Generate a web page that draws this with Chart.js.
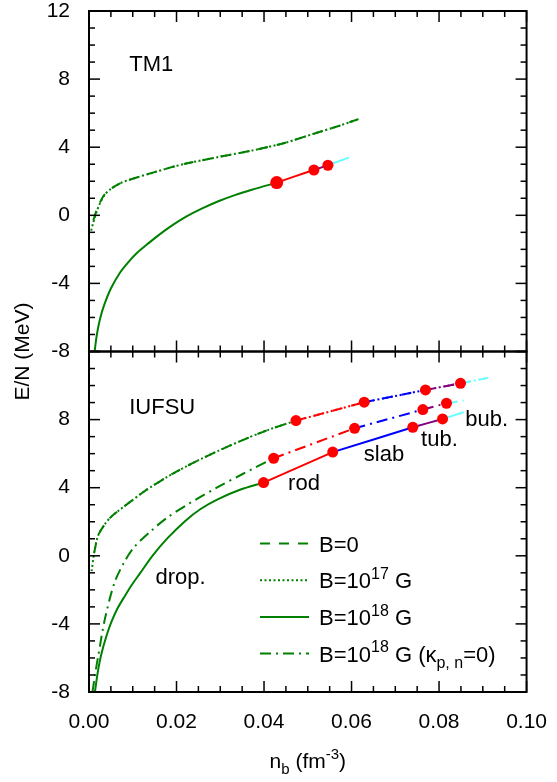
<!DOCTYPE html>
<html>
<head>
<meta charset="utf-8">
<script src="https://cdn.jsdelivr.net/npm/chart.js@4.4.1/dist/chart.umd.min.js"></script>
<style>
  html, body { margin: 0; padding: 0; background: #fff; }
  canvas { display: block; }
</style>
</head>
<body>
<canvas id="chart" width="557" height="782"></canvas>
<script>
// axis ticks
const xMajorTicks = [0, 0.02, 0.04, 0.06, 0.08, 0.10];
const xTickLabels = ['0.00', '0.02', '0.04', '0.06', '0.08', '0.10'];
const yMajorTicks = [-8, -4, 0, 4, 8, 12];
const yTickLabelsTop = ['-8', '-4', '0', '4', '8', '12'];
const yTickLabelsBottom = ['-8', '-4', '0', '4', '8', ''];

// ---- TM1 (upper panel) ----
const tm1B17X = [0.0005, 0.0010, 0.0016, 0.0025, 0.0035, 0.0050, 0.0073, 0.0100, 0.0148, 0.0185, 0.0222, 0.0297, 0.0372, 0.0447, 0.0512, 0.0565, 0.0616];
const tm1B17Y = [-0.9, -0.4, 0.1, 0.7, 1.18, 1.55, 1.9, 2.15, 2.52, 2.8, 3.04, 3.43, 3.8, 4.25, 4.78, 5.2, 5.65];
const tm1B0X = [0.0010, 0.0016, 0.0025, 0.0035, 0.0050, 0.0073, 0.0100, 0.0148, 0.0185, 0.0222, 0.0297, 0.0372, 0.0447, 0.0512, 0.0565, 0.0616];
const tm1B0Y = [-0.3, 0.2, 0.75, 1.2, 1.55, 1.9, 2.15, 2.52, 2.8, 3.04, 3.43, 3.8, 4.25, 4.78, 5.2, 5.65];
const tm1B18X = [0.00128, 0.0018, 0.0025, 0.0035, 0.0050, 0.0070, 0.0090, 0.0110, 0.0137, 0.0160, 0.0185, 0.0222, 0.0260, 0.0297, 0.0335, 0.0372, 0.0429];
const tm1B18Y = [-8.0, -7.0, -6.1, -5.25, -4.3, -3.4, -2.75, -2.2, -1.62, -1.15, -0.68, -0.08, 0.42, 0.84, 1.2, 1.5, 1.92];
const tm1RodX = [0.0429, 0.0472, 0.0514];
const tm1RodY = [1.92, 2.3, 2.66];
const tm1TubX = [0.0514, 0.0546];
const tm1TubY = [2.66, 2.94];
const tm1BubX = [0.0546, 0.0594];
const tm1BubY = [2.94, 3.39];
const tm1DotX = [0.0429, 0.0514, 0.0546];
const tm1DotY = [1.92, 2.66, 2.94];

// ---- IUFSU (lower panel) ----
const iuB17X = [0.0006, 0.0012, 0.0021, 0.0036, 0.0051, 0.0070, 0.0088, 0.0126, 0.0145, 0.0178, 0.0201, 0.0220, 0.0253, 0.0294, 0.0347, 0.0410, 0.0473];
const iuB17Y = [-0.9, 0.2, 1.2, 1.85, 2.3, 2.7, 3.05, 3.78, 4.1, 4.62, 4.96, 5.22, 5.65, 6.15, 6.75, 7.4, 7.94];
const iuB0X = [0.0012, 0.0021, 0.0036, 0.0051, 0.0070, 0.0088, 0.0126, 0.0145, 0.0178, 0.0201, 0.0220, 0.0253, 0.0294, 0.0347, 0.0410, 0.0473];
const iuB0Y = [0.2, 1.2, 1.85, 2.3, 2.7, 3.05, 3.78, 4.1, 4.62, 4.96, 5.22, 5.65, 6.15, 6.75, 7.4, 7.94];
const iuB18X = [0.00135, 0.0020, 0.0028, 0.0040, 0.0051, 0.0065, 0.0081, 0.0098, 0.0116, 0.0145, 0.0180, 0.0220, 0.0255, 0.0294, 0.0345, 0.0399];
const iuB18Y = [-8.0, -6.85, -5.8, -4.7, -3.9, -3.1, -2.4, -1.7, -1.05, 0.0, 1.05, 2.05, 2.75, 3.32, 3.88, 4.3];
const iuK0X = [0.0008, 0.0014, 0.0021, 0.0036, 0.0058, 0.0081, 0.0103, 0.01445, 0.0178, 0.0220, 0.0246, 0.0294, 0.0350, 0.0422];
const iuK0Y = [-8.0, -6.95, -5.9, -3.75, -1.6, -0.35, 0.5, 1.52, 2.23, 2.93, 3.33, 4.03, 4.79, 5.73];

// pasta phases on each curve: rod, slab, tube, bubble boundaries
const iuB18PhaseX = [0.0399, 0.0557, 0.0740, 0.0808, 0.0856];
const iuB18PhaseY = [4.3, 6.09, 7.55, 8.04, 8.43];
const iuK0PhaseX = [0.0422, 0.0607, 0.0763, 0.0817, 0.0856];
const iuK0PhaseY = [5.73, 7.49, 8.59, 8.96, 9.12];
const iuB17PhaseX = [0.0473, 0.0629, 0.0769, 0.0849, 0.0912];
const iuB17PhaseY = [7.94, 9.02, 9.74, 10.13, 10.45];

const GREEN = '#008000';
const phaseColors = ['#ff0000', '#0000ff', '#800080', '#66ffff'];
const DASHED = [10, 9];
const DOTTED = [2, 2.5];
const DASHDOT = [11, 5, 2, 5];
const FONT = "'Liberation Sans', Arial, sans-serif";

const zip = (xs, ys) => xs.map((x, i) => ({ x, y: ys[i] }));

const curve = (xs, ys, color, dash, axis) => ({
  data: zip(xs, ys),
  showLine: true,
  borderColor: color,
  borderWidth: 2,
  borderDash: dash,
  pointRadius: 0,
  tension: 0.3,
  yAxisID: axis,
  order: 1,
});

// order 0 -> drawn last, on top of the lines
const dots = (xs, ys, axis, r) => ({
  data: zip(xs, ys),
  showLine: false,
  pointRadius: r,
  pointBackgroundColor: '#ff0000',
  pointBorderColor: '#ff0000',
  pointBorderWidth: 0,
  yAxisID: axis,
  order: 0,
});

// a phase curve split into coloured segments between the boundary points
const phaseSegments = (xs, ys, dashes, axis) => {
  const out = [];
  for (let i = 0; i < xs.length - 1; i++) {
    for (const d of dashes) {
      out.push(curve([xs[i], xs[i + 1]], [ys[i], ys[i + 1]], phaseColors[i], d, axis));
    }
  }
  return out;
};

const datasets = [
  curve(tm1B17X, tm1B17Y, GREEN, DOTTED, 'yTop'),
  curve(tm1B0X, tm1B0Y, GREEN, DASHED, 'yTop'),
  curve(tm1B18X, tm1B18Y, GREEN, [], 'yTop'),
  curve(tm1RodX, tm1RodY, phaseColors[0], [], 'yTop'),
  curve(tm1TubX, tm1TubY, phaseColors[2], [], 'yTop'),
  curve(tm1BubX, tm1BubY, phaseColors[3], [], 'yTop'),
  dots(tm1DotX, tm1DotY, 'yTop', [6.5, 5.5, 5.5]),

  curve(iuB17X, iuB17Y, GREEN, DOTTED, 'yBot'),
  curve(iuB0X, iuB0Y, GREEN, DASHED, 'yBot'),
  curve(iuK0X, iuK0Y, GREEN, DASHDOT, 'yBot'),
  curve(iuB18X, iuB18Y, GREEN, [], 'yBot'),
  ...phaseSegments(iuB17PhaseX, iuB17PhaseY, [DASHED, DOTTED], 'yBot'),
  ...phaseSegments(iuK0PhaseX, iuK0PhaseY, [DASHDOT], 'yBot'),
  ...phaseSegments(iuB18PhaseX, iuB18PhaseY, [[]], 'yBot'),
  dots(iuB17PhaseX.slice(0, 4), iuB17PhaseY.slice(0, 4), 'yBot', 5.5),
  dots(iuK0PhaseX.slice(0, 4), iuK0PhaseY.slice(0, 4), 'yBot', 5.5),
  dots(iuB18PhaseX.slice(0, 4), iuB18PhaseY.slice(0, 4), 'yBot', 5.5),
];

const labelFor = (majors, labels) => (v) => {
  const i = majors.findIndex(m => Math.abs(m - v) < 1e-9);
  return i < 0 ? '' : labels[i];
};
const isMajor = (majors, v) => majors.some(m => Math.abs(m - v) < 1e-9);

const annotations = [
  { text: 'TM1', x: 0.0092, y: 8.5, axis: 'yTop' },
  { text: 'IUFSU', x: 0.0092, y: 8.35, axis: 'yBot' },
  { text: 'drop.', x: 0.0152, y: -1.67, axis: 'yBot' },
  { text: 'rod', x: 0.0455, y: 3.84, axis: 'yBot' },
  { text: 'slab', x: 0.0628, y: 5.54, axis: 'yBot' },
  { text: 'tub.', x: 0.0759, y: 6.42, axis: 'yBot' },
  { text: 'bub.', x: 0.0860, y: 7.65, axis: 'yBot' },
];

const legendRows = [
  { dash: DASHED, parts: [{ t: 'B=0' }] },
  { dash: DOTTED, parts: [{ t: 'B=10' }, { t: '17', sup: true }, { t: ' G' }] },
  { dash: [], parts: [{ t: 'B=10' }, { t: '18', sup: true }, { t: ' G' }] },
  { dash: DASHDOT, parts: [{ t: 'B=10' }, { t: '18', sup: true }, { t: ' G (\u03BA' }, { t: 'p, n', sub: true }, { t: '=0)' }] },
];

function drawRich(ctx, parts, x, y, size, align) {
  const small = Math.round(size * 0.72);
  let w = 0;
  for (const p of parts) {
    ctx.font = `${p.sup || p.sub ? small : size}px ${FONT}`;
    w += ctx.measureText(p.t).width;
  }
  let cx = align === 'center' ? x - w / 2 : x;
  ctx.textAlign = 'left';
  ctx.textBaseline = 'alphabetic';
  for (const p of parts) {
    ctx.font = `${p.sup || p.sub ? small : size}px ${FONT}`;
    const dy = p.sup ? -size * 0.42 : p.sub ? size * 0.3 : 0;
    ctx.fillText(p.t, cx, y + dy);
    cx += ctx.measureText(p.t).width;
  }
}

const framePlugin = {
  id: 'frame',
  afterDraw(chart) {
    const { ctx } = chart;
    const xs = chart.scales.x;
    const panels = [chart.scales.yTop, chart.scales.yBot];
    const l = xs.left, r = xs.right;
    ctx.save();
    ctx.strokeStyle = '#000';
    const seg = (x1, y1, x2, y2) => { ctx.beginPath(); ctx.moveTo(x1, y1); ctx.lineTo(x2, y2); ctx.stroke(); };
    for (const ys of panels) {
      const t = ys.top, b = ys.bottom;
      ctx.lineWidth = 1.5;
      for (const tk of ys.ticks) {
        const p = ys.getPixelForValue(tk.value);
        const len = isMajor(yMajorTicks, tk.value) ? 11 : 6;
        seg(l, p, l + len, p);
        seg(r, p, r - len, p);
      }
      for (const tk of xs.ticks) {
        const p = xs.getPixelForValue(tk.value);
        const len = isMajor(xMajorTicks, tk.value) ? 11 : 6;
        seg(p, t, p, t + len);
        seg(p, b, p, b - len);
      }
      ctx.lineWidth = 2;
      ctx.strokeRect(l, t, r - l, b - t);
    }

    ctx.fillStyle = '#000';
    ctx.textAlign = 'left';
    ctx.textBaseline = 'alphabetic';
    ctx.font = `22px ${FONT}`;
    for (const a of annotations) {
      ctx.fillText(a.text, xs.getPixelForValue(a.x), chart.scales[a.axis].getPixelForValue(a.y));
    }

    // legend
    legendRows.forEach((row, i) => {
      const cy = 543.5 + i * 36.7;
      ctx.strokeStyle = GREEN;
      ctx.lineWidth = 2;
      ctx.setLineDash(row.dash);
      seg(260, cy, 309, cy);
      ctx.setLineDash([]);
      ctx.fillStyle = '#000';
      drawRich(ctx, row.parts, 319, cy + 8, 22, 'left');
    });

    // axis titles
    ctx.fillStyle = '#000';
    drawRich(ctx, [{ t: 'n' }, { t: 'b', sub: true }, { t: ' (fm' }, { t: '-3', sup: true }, { t: ')' }],
      (l + r) / 2, 768, 21, 'center');
    ctx.save();
    ctx.translate(29, (panels[0].top + panels[1].bottom) / 2);
    ctx.rotate(-Math.PI / 2);
    ctx.font = `21px ${FONT}`;
    ctx.textAlign = 'center';
    ctx.textBaseline = 'alphabetic';
    ctx.fillText('E/N (MeV)', 0, 0);
    ctx.restore();
    ctx.restore();
  }
};

const yAxis = (labels) => ({
  type: 'linear',
  position: 'left',
  stack: 'panels',
  stackWeight: 1,
  min: -8,
  max: 12,
  grid: { display: false },
  border: { display: false },
  afterFit: (s) => { s.width = 89; s.paddingTop = 0; s.paddingBottom = 0; },
  ticks: {
    stepSize: 1,
    autoSkip: false,
    maxRotation: 0,
    padding: 11,
    color: '#000',
    font: { family: FONT, size: 21 },
    callback: labelFor(yMajorTicks, labels),
  },
});

new Chart(document.getElementById('chart'), {
  type: 'scatter',
  data: { datasets },
  plugins: [framePlugin],
  options: {
    responsive: false,
    animation: false,
    layout: { padding: { top: 11, right: 23, left: 0, bottom: 0 } },
    plugins: { legend: { display: false }, tooltip: { enabled: false } },
    scales: {
      x: {
        type: 'linear',
        min: 0,
        max: 0.1,
        grid: { display: false },
        border: { display: false },
        afterFit: (s) => { s.height = 90; },
        ticks: {
          stepSize: 0.005,
          autoSkip: false,
          maxRotation: 0,
          padding: 10,
          color: '#000',
          font: { family: FONT, size: 21 },
          callback: labelFor(xMajorTicks, xTickLabels),
        },
      },
      // stacked scales are placed bottom-up in definition order
      yBot: yAxis(yTickLabelsBottom),
      yTop: yAxis(yTickLabelsTop),
    },
  },
});
</script>
</body>
</html>
